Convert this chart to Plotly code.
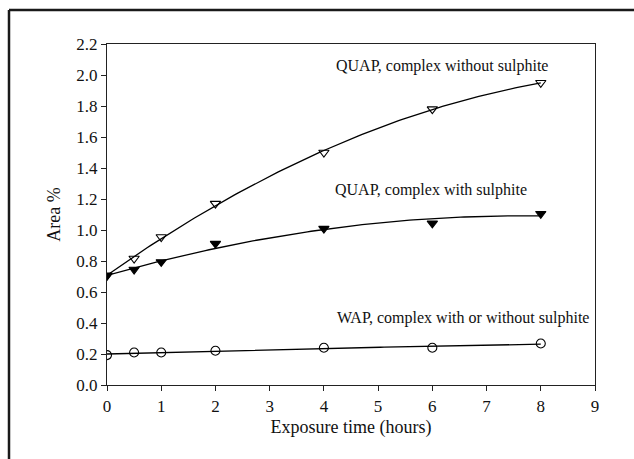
import numpy as np
import plotly.graph_objects as go

# Exposure times (hours)
hours = [0, 0.5, 1, 2, 4, 6, 8]

# Area % for each sample
quap_without = [0.708, 0.816, 0.955, 1.17, 1.50, 1.78, 1.95]
quap_with = [0.705, 0.745, 0.794, 0.912, 1.009, 1.043, 1.105]
wap = [0.193, 0.21, 0.21, 0.221, 0.24, 0.24, 0.268]

x_ticks = [0, 1, 2, 3, 4, 5, 6, 7, 8, 9]
y_ticks = [0.0, 0.2, 0.4, 0.6, 0.8, 1.0, 1.2, 1.4, 1.6, 1.8, 2.0, 2.2]

FONT = "Liberation Serif"

fig = go.Figure()

series = [
    (quap_without, "triangle-down-open", "QUAP, complex without sulphite"),
    (quap_with, "triangle-down", "QUAP, complex with sulphite"),
    (wap, "circle-open", "WAP, complex with or without sulphite"),
]

xs = np.linspace(min(hours), max(hours), 120)
for values, symbol, name in series:
    # second-order trend line fitted to the measured points
    coef = np.polyfit(hours, values, 2)
    fig.add_trace(go.Scatter(
        x=xs, y=np.polyval(coef, xs), mode="lines",
        line=dict(color="black", width=1.3), hoverinfo="skip", showlegend=False,
    ))
    fig.add_trace(go.Scatter(
        x=hours, y=values, mode="markers", name=name,
        marker=dict(symbol=symbol, size=9, color="black",
                    line=dict(color="black", width=1.1)),
        showlegend=False,
    ))

# series labels
labels = [
    (6.18, 2.06, "QUAP, complex without sulphite"),
    (5.97, 1.256, "QUAP, complex with sulphite"),
    (6.56, 0.43, "WAP, complex with or without sulphite"),
]
for lx, ly, text in labels:
    fig.add_annotation(x=lx, y=ly, text=text, showarrow=False,
                       font=dict(family=FONT, size=16, color="#111"))

axis_common = dict(
    showline=True, linecolor="#222", linewidth=1.2, mirror=True,
    ticks="outside", ticklen=5, tickwidth=1.2, tickcolor="#222",
    showgrid=False, zeroline=False,
    tickfont=dict(family=FONT, size=17, color="#111"),
)

fig.update_layout(
    xaxis=dict(
        range=[0, 9], tickmode="array", tickvals=x_ticks, tickformat="d",
        title=dict(text="Exposure time (hours)", standoff=5,
                   font=dict(family=FONT, size=18, color="#111")),
        **axis_common,
    ),
    yaxis=dict(
        range=[0, 2.2], tickmode="array", tickvals=y_ticks, tickformat=".1f",
        title=dict(text="Area %", standoff=10,
                   font=dict(family=FONT, size=18, color="#111")),
        **axis_common,
    ),
)

# outer frame (left and top edges)
W, H = 634, 459
ml, mr, mt, mb = 107, 39, 44, 74
pw, ph = W - ml - mr, H - mt - mb
fx = (9 - ml) / pw
fy = 1 + (mt - 10) / ph
fig.add_shape(type="line", xref="paper", yref="paper",
              x0=fx, x1=fx, y0=fy, y1=-0.4, line=dict(color="#1a1a1a", width=2.5))
fig.add_shape(type="line", xref="paper", yref="paper",
              x0=fx, x1=1.2, y0=fy, y1=fy, line=dict(color="#1a1a1a", width=2.5))

fig.update_layout(
    width=W, height=H,
    margin=dict(l=ml, r=mr, t=mt, b=mb, autoexpand=False),
    paper_bgcolor="white", plot_bgcolor="white",
    font=dict(family=FONT, color="#111"),
)

fig.write_html("out.html")
